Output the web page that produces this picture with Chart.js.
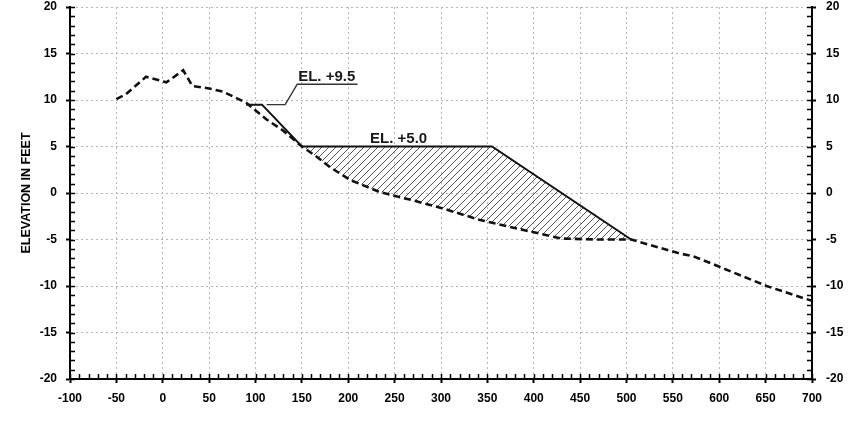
<!DOCTYPE html>
<html><head><meta charset="utf-8">
<script src="https://cdn.jsdelivr.net/npm/chart.js@4.4.1/dist/chart.umd.min.js"></script>
<style>html,body{margin:0;padding:0;background:#fff;}#wrap{width:849px;height:423px;position:relative;}</style>
</head><body><div id="wrap"><canvas id="c" width="849" height="423"></canvas></div>
<script>
// ---- data ----
const groundX = [-50, -40, -18, 4, 22, 32, 47, 65, 90, 112, 130, 150, 166, 180, 202, 234, 270, 300, 342, 390, 430, 468, 505, 557, 572, 597, 651, 700];
const groundY = [10.1, 10.6, 12.5, 11.9, 13.2, 11.5, 11.3, 10.9, 9.7, 7.9, 6.7, 5.0, 3.9, 2.8, 1.4, 0.1, -0.8, -1.6, -2.9, -4.0, -4.9, -5.0, -5.0, -6.5, -6.8, -7.8, -10.0, -11.6];
const designX = [90, 107, 150, 355, 505];
const designY = [9.5, 9.5, 5.0, 5.0, -5.0];
const leaderX = [112, 132, 145, 210];
const leaderY = [9.5, 9.5, 11.7, 11.7];
const labelText = ['EL. +9.5', 'EL. +5.0'];
const labelX = [146, 223.5];
const labelY = [11.7, 5.0];
const xRange = [-100, 700];
const yRange = [-20, 20];
const xStep = 50, yStep = 5, xMinor = 10, yMinor = 1;
const yTitle = 'ELEVATION IN FEET';

const pts = (xs, ys) => xs.map((x, i) => ({x, y: ys[i]}));
const fillStart = designX[2], fillEnd = designX[designX.length - 1];
const hatchTop = pts(designX, designY).filter(p => p.x >= fillStart);
const hatchBottom = pts(groundX, groundY).filter(p => p.x >= fillStart && p.x <= fillEnd);

function hatchPattern() {
  const s = 7;
  const c = document.createElement('canvas'); c.width = s; c.height = s;
  const g = c.getContext('2d');
  g.strokeStyle = '#555'; g.lineWidth = 1;
  g.beginPath();
  g.moveTo(0, s); g.lineTo(s, 0);
  g.moveTo(-1, 1); g.lineTo(1, -1);
  g.moveTo(s - 1, s + 1); g.lineTo(s + 1, s - 1);
  g.stroke();
  return document.getElementById('c').getContext('2d').createPattern(c, 'repeat');
}

const minorTicks = {
  id: 'minorTicks',
  afterDraw(chart) {
    const {ctx, scales: {x, y}} = chart;
    ctx.save();
    ctx.strokeStyle = '#000'; ctx.lineWidth = 1.5;
    ctx.beginPath();
    for (let v = yRange[0]; v <= yRange[1]; v += yMinor) {
      const py = Math.round(y.getPixelForValue(v)) + 0.5;
      ctx.moveTo(x.left, py); ctx.lineTo(x.left + 5, py);
      ctx.moveTo(x.right, py); ctx.lineTo(x.right - 5, py);
    }
    for (let v = xRange[0]; v <= xRange[1]; v += xMinor) {
      const px = Math.round(x.getPixelForValue(v)) + 0.5;
      ctx.moveTo(px, y.bottom); ctx.lineTo(px, y.bottom - 5);
    }
    ctx.stroke();
    ctx.restore();
  }
};
const labels = {
  id: 'elLabels',
  afterDatasetsDraw(chart) {
    const {ctx, scales: {x, y}} = chart;
    ctx.save();
    ctx.font = 'bold 15px "Liberation Sans", Arial, sans-serif';
    ctx.fillStyle = '#1a1a1a';
    ctx.textAlign = 'left'; ctx.textBaseline = 'alphabetic';
    labelText.forEach((t, i) => ctx.fillText(t, x.getPixelForValue(labelX[i]), y.getPixelForValue(labelY[i]) - 3.5));
    ctx.restore();
  }
};

const tickFont = {family: '"Liberation Sans", Arial, sans-serif', size: 12, weight: 'bold'};
const gridCommon = {color: '#b4b4b4', lineWidth: 1, tickColor: '#000', tickLength: 4, tickWidth: 2};
const borderCommon = {display: true, color: '#000', width: 2, dash: [2, 3]};
const noPad = s => { s.paddingTop = 0; s.paddingBottom = 0; };

new Chart(document.getElementById('c'), {
  type: 'line',
  data: {
    datasets: [
      {label: 'hatchTop', data: hatchTop, borderWidth: 0, borderColor: 'rgba(0,0,0,0)', pointRadius: 0, fill: 1, backgroundColor: hatchPattern(), order: 5},
      {label: 'hatchBottom', data: hatchBottom, borderWidth: 0, borderColor: 'rgba(0,0,0,0)', pointRadius: 0, fill: false, order: 5},
      {label: 'ground', data: pts(groundX, groundY), borderColor: '#111', borderWidth: 2.6, borderDash: [7, 4], pointRadius: 0, fill: false, tension: 0, order: 2},
      {label: 'design', data: pts(designX, designY), borderColor: '#111', borderWidth: 2, pointRadius: 0, fill: false, tension: 0, order: 1},
      {label: 'leader', data: pts(leaderX, leaderY), borderColor: '#333', borderWidth: 1.4, pointRadius: 0, fill: false, tension: 0, order: 1}
    ]
  },
  options: {
    animation: false, responsive: false, maintainAspectRatio: false,
    layout: {padding: {top: 7, left: 0, right: 0, bottom: 0}},
    plugins: {legend: {display: false}, tooltip: {enabled: false}},
    elements: {line: {borderJoinStyle: 'miter'}},
    scales: {
      x: {
        type: 'linear', position: 'bottom', min: xRange[0], max: xRange[1],
        afterFit(s) { s.height = 44; s.paddingLeft = 0; s.paddingRight = 0; },
        ticks: {stepSize: xStep, font: tickFont, color: '#000', padding: 8, maxRotation: 0, autoSkip: false},
        grid: gridCommon, border: borderCommon
      },
      y: {
        type: 'linear', position: 'left', min: yRange[0], max: yRange[1],
        afterFit(s) { s.width = 70; noPad(s); },
        ticks: {stepSize: yStep, font: tickFont, color: '#000', padding: 9},
        grid: gridCommon, border: borderCommon,
        title: {display: true, text: yTitle, color: '#000', font: {family: '"Liberation Sans", Arial, sans-serif', size: 12.5, weight: 'bold'}, padding: {top: 19.5, bottom: 0}}
      },
      y2: {
        type: 'linear', position: 'right', min: yRange[0], max: yRange[1],
        afterFit(s) { s.width = 37; noPad(s); },
        ticks: {stepSize: yStep, font: tickFont, color: '#000', padding: 10},
        grid: Object.assign({}, gridCommon, {drawOnChartArea: false}), border: borderCommon
      }
    }
  },
  plugins: [minorTicks, labels]
});
</script></body></html>
